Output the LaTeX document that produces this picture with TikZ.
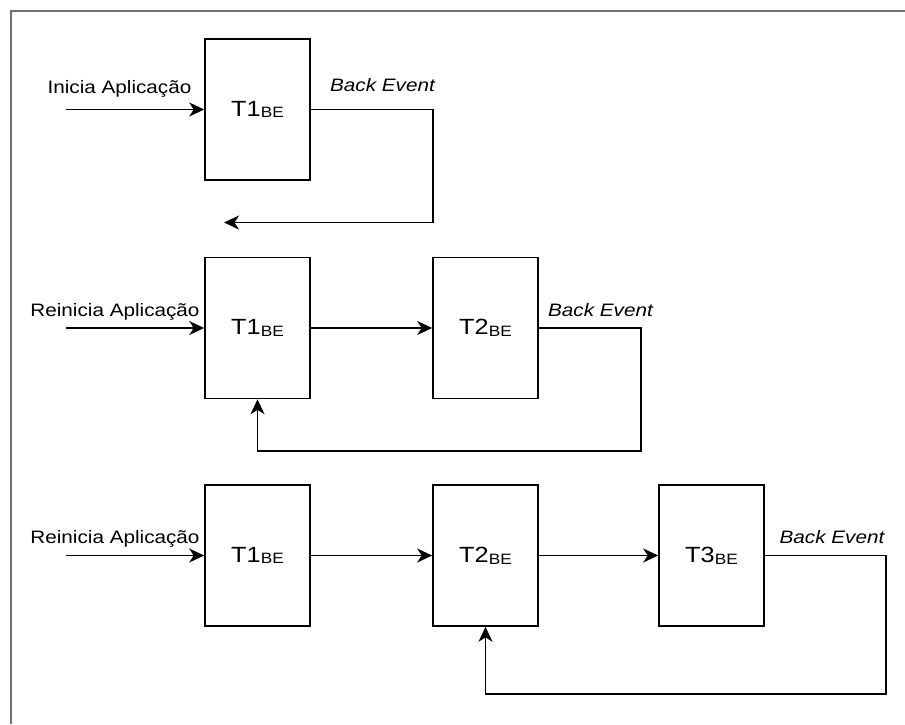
\documentclass[tikz,border=0pt]{standalone}
\usepackage{fontspec}
\setmainfont{Liberation Sans}[FakeStretch=1.15]
\usetikzlibrary{arrows.meta}
\definecolor{framegray}{HTML}{707070}
\tikzset{
  task/.style={draw, line width=1.6pt, minimum width=105pt, minimum height=141pt,
               inner sep=0pt, font=\fontsize{22}{24}\selectfont},
  flow/.style={line width=1.6pt, -{Stealth[length=15pt,width=14pt,inset=4.5pt]}},
  inlabel/.style={anchor=base, inner sep=0pt, font=\fontsize{18}{20}\selectfont},
  evlabel/.style={anchor=base, inner sep=0pt, font=\fontsize{18}{20}\selectfont\itshape},
}
\newcommand{\tsub}[1]{\raisebox{-1.7pt}{\fontsize{15}{17}\selectfont #1}}
\begin{document}
\begin{tikzpicture}[x=1pt,y=-1pt]
  \useasboundingbox (0,0) rectangle (905,724);
  % outer frame (left and top edges)
  \draw[framegray, line width=2pt] (11,724) -- (11,11) -- (905,11);

  % ---- first run ----
  \node[task] (T1a) at (257.5,109.5) {T1\tsub{BE}};
  \coordinate (in1) at (66,109.5);
  \coordinate (c1) at (433,222.5);
  \coordinate (r1end) at (224,222.5);
  \node[inlabel] (lab1) at (119.5,93) {Inicia Aplicação};
  \node[evlabel] (ev1) at (382.5,91) {Back Event};
  \draw[flow] (in1) -- (T1a.west);
  \draw[flow] (T1a.east) -| (c1) -- (r1end);

  % ---- second run ----
  \node[task] (T1b) at (257.5,328) {T1\tsub{BE}};
  \node[task] (T2b) at (485.5,328) {T2\tsub{BE}};
  \coordinate (in2) at (66,328);
  \coordinate (c2) at (641,451);
  \node[inlabel] (lab2) at (115,316.7) {Reinicia Aplicação};
  \node[evlabel] (ev2) at (600.5,316.7) {Back Event};
  \draw[flow] (in2) -- (T1b.west);
  \draw[flow] (T1b) -- (T2b);
  \draw[flow] (T2b.east) -| (c2) -| (T1b.south);

  % ---- third run ----
  \node[task] (T1c) at (257.5,555.5) {T1\tsub{BE}};
  \node[task] (T2c) at (485.5,555.5) {T2\tsub{BE}};
  \node[task] (T3c) at (711.5,555.5) {T3\tsub{BE}};
  \coordinate (in3) at (66,555.5);
  \coordinate (c3) at (886,694);
  \node[inlabel] (lab3) at (115,543.5) {Reinicia Aplicação};
  \node[evlabel] (ev3) at (832,543.5) {Back Event};
  \draw[flow] (in3) -- (T1c.west);
  \draw[flow] (T1c) -- (T2c);
  \draw[flow] (T2c) -- (T3c);
  \draw[flow] (T3c.east) -| (c3) -| (T2c.south);
\end{tikzpicture}
\end{document}
